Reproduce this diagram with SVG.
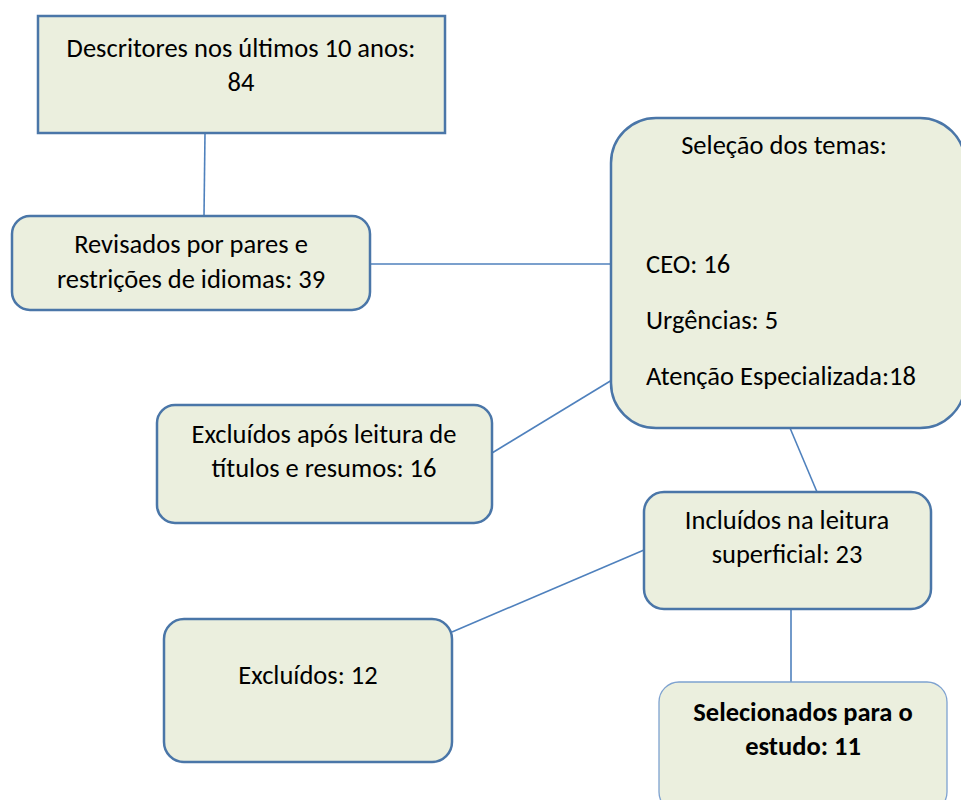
<svg xmlns="http://www.w3.org/2000/svg" width="961" height="800" viewBox="0 0 961 800">
<style>
.box{fill:#ebefde;stroke:#4a76a8;stroke-width:2.5}
.thin{fill:#ebefde;stroke:#7ea2d0;stroke-width:1.3}
.edge{stroke:#4f81bd;stroke-width:1.6;fill:none}
text{font-family:Carlito,Lato,"Open Sans",sans-serif;font-size:26.5px;fill:#000}
.c{text-anchor:middle}
.b{font-weight:bold}
</style>
<rect width="961" height="800" fill="#fff"/>
<g id="connectors">
<line class="edge" x1="205" y1="133" x2="204" y2="216"/>
<line class="edge" x1="370" y1="264" x2="612" y2="264"/>
<line class="edge" x1="612" y1="380" x2="492" y2="453"/>
<line class="edge" x1="790" y1="428" x2="817" y2="492"/>
<line class="edge" x1="644" y1="550" x2="452" y2="632"/>
<line class="edge" x1="791" y1="609" x2="791" y2="682"/>
</g>
<g id="n1">
<rect class="box" x="38" y="16" width="407" height="117"/>
<text class="c" x="241" y="57">Descritores nos últimos 10 anos:</text>
<text class="c" x="241" y="91">84</text>
</g>
<g id="n2">
<rect class="box" x="12" y="216" width="358" height="94" rx="18"/>
<text class="c" x="191" y="253">Revisados por pares e</text>
<text class="c" x="191" y="288">restrições de idiomas: 39</text>
</g>
<g id="n3">
<rect class="box" x="611" y="118" width="354" height="310" rx="45"/>
<text class="c" x="784" y="154">Seleção dos temas:</text>
<text x="646" y="273">CEO: 16</text>
<text x="646" y="329">Urgências: 5</text>
<text x="646" y="385">Atenção Especializada:18</text>
</g>
<g id="n4">
<rect class="box" x="157" y="405" width="335" height="118" rx="18"/>
<text class="c" x="324" y="443">Excluídos após leitura de</text>
<text class="c" x="324" y="477">títulos e resumos: 16</text>
</g>
<g id="n5">
<rect class="box" x="644" y="492" width="287" height="117" rx="20"/>
<text class="c" x="787" y="529">Incluídos na leitura</text>
<text class="c" x="787" y="563">superficial: 23</text>
</g>
<g id="n6">
<rect class="box" x="164" y="619" width="288" height="143" rx="20"/>
<text class="c" x="308" y="684">Excluídos: 12</text>
</g>
<g id="n7">
<rect class="thin" x="659" y="682" width="288" height="130" rx="20"/>
<text class="c b" x="803" y="721">Selecionados para o</text>
<text class="c b" x="803" y="755">estudo: 11</text>
</g>
</svg>
